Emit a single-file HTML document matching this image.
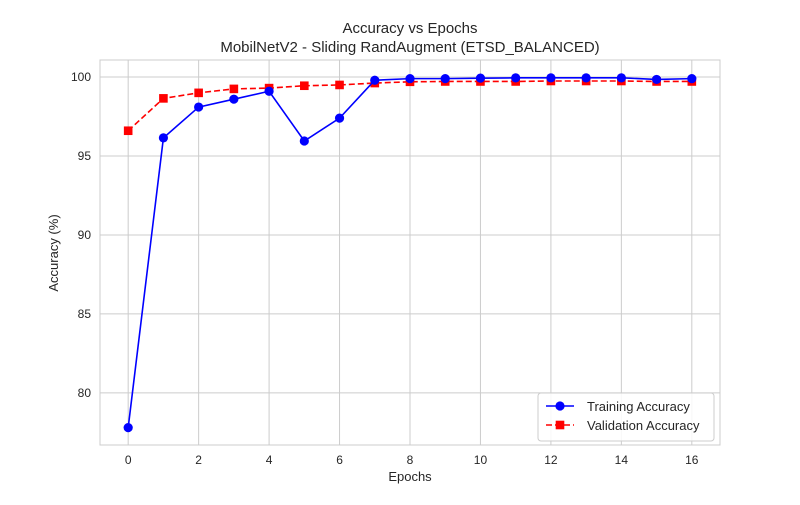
<!DOCTYPE html>
<html><head><meta charset="utf-8"><style>
body{margin:0;background:#fff;font-family:"Liberation Sans","DejaVu Sans",sans-serif}
svg text{font-family:"Liberation Sans","DejaVu Sans",sans-serif;fill:#262626}
</style></head><body>
<svg id="chart" width="800" height="500"></svg>
<script>
const epochs=[0,1,2,3,4,5,6,7,8,9,10,11,12,13,14,15,16];
const trainAcc=[77.8,96.15,98.1,98.6,99.1,95.95,97.4,99.8,99.9,99.9,99.93,99.95,99.95,99.95,99.95,99.85,99.9];
const valAcc=[96.6,98.65,99.0,99.25,99.3,99.45,99.5,99.62,99.7,99.72,99.72,99.72,99.75,99.75,99.75,99.72,99.72];
const xTicks=[0,2,4,6,8,10,12,14,16];
const yTicks=[80,85,90,95,100];
const L=100,R=720,T=60,B=445,xMin=-0.8,xMax=16.8,yMin=76.7,yMax=101.08;
const sx=v=>L+(v-xMin)/(xMax-xMin)*(R-L);
const sy=v=>B-(v-yMin)/(yMax-yMin)*(B-T);
const svg=document.getElementById('chart');const NS='http://www.w3.org/2000/svg';
function mk(tag,attrs,parent){const e=document.createElementNS(NS,tag);for(const k in attrs)e.setAttribute(k,attrs[k]);(parent||svg).appendChild(e);return e;}
const g=mk('g',{});


xTicks.forEach(t=>{mk('line',{x1:sx(t),x2:sx(t),y1:T,y2:B,stroke:'#cccccc','stroke-width':1},g);
 const tx=mk('text',{x:sx(t),y:B+19,'text-anchor':'middle','font-size':12});tx.textContent=t;
 
 });
yTicks.forEach(t=>{mk('line',{x1:L,x2:R,y1:sy(t),y2:sy(t),stroke:'#cccccc','stroke-width':1},g);
 const tx=mk('text',{x:L-9,y:sy(t)+4,'text-anchor':'end','font-size':12});tx.textContent=t;
 
 });
const fr=mk('rect',{x:L,y:T,width:R-L,height:B-T,fill:'none',stroke:'#cccccc','stroke-width':1});


const vl=mk('polyline',{points:epochs.map((e,i)=>sx(e)+','+sy(valAcc[i])).join(' '),fill:'none',stroke:'red','stroke-width':1.6,'stroke-dasharray':'6,3'});


epochs.forEach((e,i)=>{const m=mk('rect',{x:sx(e)-4.3,y:sy(valAcc[i])-4.3,width:8.6,height:8.6,fill:'red'});
 
 });
const tl=mk('polyline',{points:epochs.map((e,i)=>sx(e)+','+sy(trainAcc[i])).join(' '),fill:'none',stroke:'blue','stroke-width':1.6});


epochs.forEach((e,i)=>{const m=mk('circle',{cx:sx(e),cy:sy(trainAcc[i]),r:4.6,fill:'blue'});
 
 });
</script>
<svg width="800" height="500" style="position:absolute;left:0;top:0">
<text x="410" y="33" text-anchor="middle" font-size="15">Accuracy vs Epochs</text>
<text x="410" y="52" text-anchor="middle" font-size="15">MobilNetV2 - Sliding RandAugment (ETSD_BALANCED)</text>
<text x="410" y="481" text-anchor="middle" font-size="13">Epochs</text>
<text transform="translate(58,253) rotate(-90)" text-anchor="middle" font-size="13">Accuracy (%)</text>
<g>
<rect x="538" y="393" width="176" height="48" rx="3" fill="#fff" fill-opacity="0.85" stroke="#cccccc"/>
<g>
<line x1="546" x2="574" y1="406" y2="406" stroke="blue" stroke-width="1.6"/><circle cx="560" cy="406" r="4.6" fill="blue"/>
<text x="587" y="411" font-size="13">Training Accuracy</text></g>
<g>
<line x1="546" x2="574" y1="425" y2="425" stroke="red" stroke-width="1.6" stroke-dasharray="6,3"/><rect x="555.7" y="420.7" width="8.6" height="8.6" fill="red"/>
<text x="587" y="430" font-size="13">Validation Accuracy</text></g>
</g>
</svg>
</body></html>
